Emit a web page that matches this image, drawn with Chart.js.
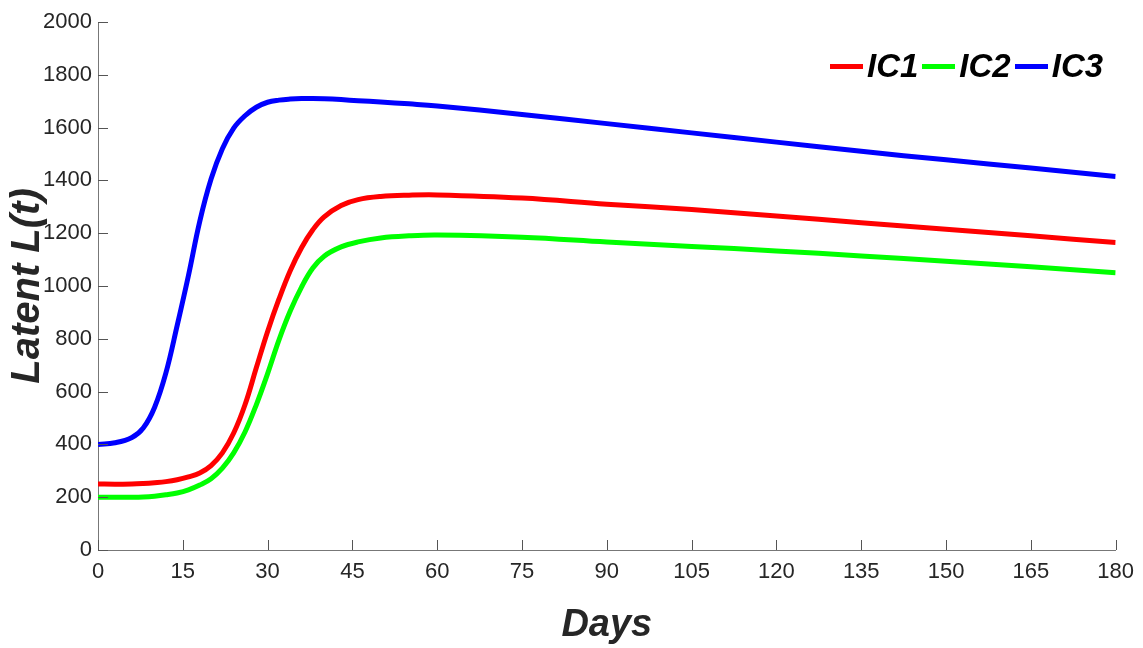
<!DOCTYPE html>
<html>
<head>
<meta charset="utf-8">
<script src="https://cdn.jsdelivr.net/npm/chart.js@4.4.1/dist/chart.umd.min.js"></script>
<style>
  html, body { margin:0; padding:0; background:#fff; }
  #wrap { position:relative; width:1143px; height:648px; }
  #legend { position:absolute; left:830px; top:46px; display:flex; align-items:center;
            font-family:"Liberation Sans",Arial,sans-serif;
            font-weight:bold; font-style:italic; font-size:33px; line-height:40px; color:#000; }
  #legend .item { display:flex; align-items:center; }
  #legend .mark { width:33px; height:5px; margin-right:4px; }
  #legend .txt { margin-right:4px; }
</style>
</head>
<body>
<div id="wrap">
  <canvas id="chart" width="1143" height="648"></canvas>
  <div id="legend"></div>
</div>
<script>
// ---------- Datos ----------
const days = [0, 3, 6, 8, 10, 12, 14, 16, 18, 20, 22, 24, 26, 28, 30, 32, 34, 36, 38, 40,
              43, 46, 50, 55, 60, 75, 90, 105, 120, 135, 150, 165, 180];

const ic1 = [250, 249, 250, 252, 255, 259, 266, 277, 292, 320, 368, 443, 550, 690, 828, 950, 1058, 1145, 1213, 1262,
             1305, 1327, 1339, 1344, 1345, 1333, 1310, 1290, 1265, 1240, 1215, 1190, 1165];

const ic2 = [200, 200, 200, 201, 204, 209, 216, 228, 246, 270, 310, 368, 447, 550, 668, 795, 905, 996, 1068, 1113,
             1148, 1167, 1182, 1190, 1193, 1185, 1167, 1150, 1133, 1114, 1094, 1073, 1050];

const ic3 = [400, 406, 426, 462, 540, 670, 850, 1040, 1245, 1405, 1520, 1598, 1645, 1677, 1696, 1704, 1708, 1710, 1710, 1709,
             1706, 1702, 1697, 1690, 1682, 1650, 1615, 1580, 1545, 1510, 1478, 1447, 1415];

const seriesNames = ["IC1", "IC2", "IC3"];
const seriesColors = ["#ff0000", "#00ff00", "#0000ff"];

const xTicks = [0, 15, 30, 45, 60, 75, 90, 105, 120, 135, 150, 165, 180];
const yTicks = [0, 200, 400, 600, 800, 1000, 1200, 1400, 1600, 1800, 2000];

// ---------- Helpers ----------
function toPoints(ys){ return days.map((d,i) => ({ x: d, y: ys[i] })); }

const FONT = '"Liberation Sans",Arial,sans-serif';

// marcas de eje hacia dentro (estilo MATLAB)
const inwardTicks = {
  id: 'inwardTicks',
  afterDatasetsDraw(chart){
    const {ctx, chartArea, scales} = chart;
    ctx.save();
    ctx.strokeStyle = '#555';
    ctx.lineWidth = 1;
    ctx.beginPath();
    xTicks.forEach(v => {
      const px = Math.round(scales.x.getPixelForValue(v)) + 0.5;
      ctx.moveTo(px, chartArea.bottom);
      ctx.lineTo(px, chartArea.bottom - 10);
    });
    yTicks.forEach(v => {
      const py = Math.round(scales.y.getPixelForValue(v)) + 0.5;
      ctx.moveTo(chartArea.left, py);
      ctx.lineTo(chartArea.left + 10, py);
    });
    ctx.stroke();
    ctx.restore();
  }
};

const datasets = [ic1, ic2, ic3].map((ys, i) => ({
  label: seriesNames[i],
  data: toPoints(ys),
  borderColor: seriesColors[i],
  backgroundColor: seriesColors[i],
  borderWidth: 5,
  pointRadius: 0,
  fill: false,
  tension: 0.4
}));

const chart = new Chart(document.getElementById('chart').getContext('2d'), {
  type: 'line',
  data: { datasets },
  options: {
    responsive: false,
    animation: false,
    layout: { padding: { left: 0, right: 27, top: 22, bottom: 0 } },
    plugins: { legend: { display: false }, tooltip: { enabled: false } },
    scales: {
      x: {
        type: 'linear', min: 0, max: 180,
        afterBuildTicks: (s) => { s.ticks = xTicks.map(v => ({ value: v })); },
        afterFit: (s) => { s.height = 98; },
        grid: { display: false, drawTicks: false },
        border: { display: true, color: '#777', width: 1 },
        ticks: { padding: 9, color: '#262626', font: { family: FONT, size: 22 }, maxRotation: 0,
                 callback: (v) => String(v) },
        title: { display: true, text: 'Days', color: '#262626', padding: { top: 2, bottom: 0 },
                 font: { family: FONT, size: 38, weight: 'bold', style: 'italic' } }
      },
      y: {
        type: 'linear', min: 0, max: 2000,
        afterBuildTicks: (s) => { s.ticks = yTicks.map(v => ({ value: v })); },
        afterFit: (s) => { s.width = 98; },
        grid: { display: false, drawTicks: false },
        border: { display: true, color: '#777', width: 1 },
        ticks: { padding: 6, color: '#262626', font: { family: FONT, size: 22 },
                 callback: (v) => String(v) },
        title: { display: true, text: 'Latent L(t)', color: '#262626', padding: { top: 4, bottom: 0 },
                 font: { family: FONT, size: 40, weight: 'bold', style: 'italic' } }
      }
    }
  },
  plugins: [inwardTicks]
});

// ---------- Leyenda ----------
const legendBox = document.getElementById('legend');
chart.data.datasets.forEach(ds => {
  const item = document.createElement('div');
  item.className = 'item';
  item.innerHTML = `<span class="mark" style="background:${ds.borderColor}"></span><span class="txt">${ds.label}</span>`;
  legendBox.appendChild(item);
});
</script>
</body>
</html>
